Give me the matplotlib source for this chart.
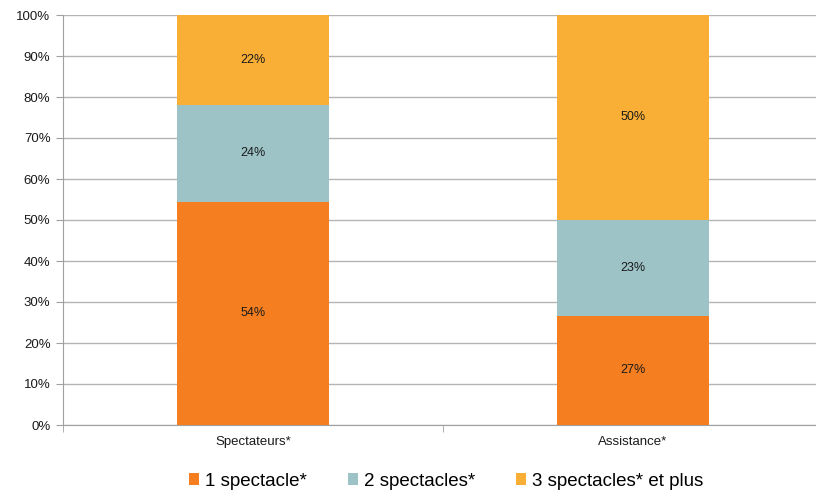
import numpy as np
import matplotlib.pyplot as plt

plt.rcParams['font.family'] = ['Liberation Sans', 'DejaVu Sans']

categories = ["Spectateurs*", "Assistance*"]
one_show = [54.4, 26.7]
two_shows = [23.7, 23.4]
three_plus = [21.9, 49.9]
one_labels = ["54%", "27%"]
two_labels = ["24%", "23%"]
three_labels = ["22%", "50%"]

series = [
    ("1 spectacle*", one_show, one_labels, "#F47E20"),
    ("2 spectacles*", two_shows, two_labels, "#9DC3C6"),
    ("3 spectacles* et plus", three_plus, three_labels, "#F9AE35"),
]

fig = plt.figure(figsize=(8.16, 4.92), dpi=100)
ax = fig.add_axes([63 / 816, 67 / 492, 760 / 816, 410 / 492])

x = np.arange(len(categories))
bottom = np.zeros(len(categories))
for name, vals, labels, color in series:
    vals = np.array(vals)
    ax.bar(x, vals, 0.4, bottom=bottom, color=color, label=name, zorder=3)
    for xi, b, v, lab in zip(x, bottom, vals, labels):
        ax.text(xi, b + v / 2, lab, ha="center", va="center", fontsize=9, color="#1a1a1a", zorder=4)
    bottom += vals

ax.set_xlim(-0.5, 1.5)
ax.set_ylim(0, 100)
ax.set_yticks(np.arange(0, 101, 10))
ax.set_yticklabels([f"{v}%" for v in range(0, 101, 10)], fontsize=9.5, color="#1a1a1a")
ax.set_xticks(x)
ax.set_xticklabels(categories, fontsize=9.5, color="#1a1a1a")
ax.tick_params(axis="x", length=0, pad=8)
ax.set_xticks([-0.5, 0.5, 1.5], minor=True)
ax.tick_params(axis="x", which="minor", length=5, color="#A0A0A0")
ax.tick_params(axis="y", length=5, color="#A0A0A0", pad=4)
ax.yaxis.grid(True, color="#B4B4B4", linewidth=1, zorder=0)
for s in ["top", "right"]:
    ax.spines[s].set_visible(False)
for s in ["left", "bottom"]:
    ax.spines[s].set_color("#A0A0A0")

fig.legend(loc="center", bbox_to_anchor=(446 / 816, 1 - 481 / 492), ncol=3, frameon=False,
           fontsize=13.5, handlelength=0.55, handleheight=0.55, handletextpad=0.3, columnspacing=2.2)

fig.savefig("out.png", dpi=100)
